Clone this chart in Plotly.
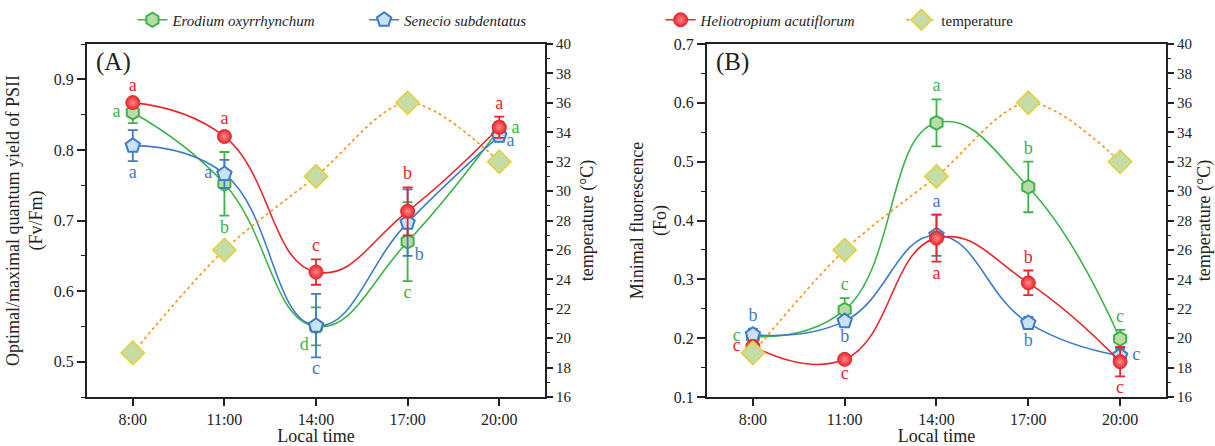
import plotly.graph_objects as go

# ---------------- data ----------------
hours = [8, 11, 14, 17, 20]
hour_labels = ["8:00", "11:00", "14:00", "17:00", "20:00"]
temperature = [19, 26, 31, 36, 32]

# Panel A: Fv/Fm
fvfm_erodium = [0.853, 0.752, 0.550, 0.670, 0.830]
fvfm_erodium_err = [0.015, 0.045, 0.027, 0.056, 0.010]
fvfm_senecio = [0.806, 0.766, 0.551, 0.697, 0.820]
fvfm_senecio_err = [0.022, 0.020, 0.045, 0.047, 0.008]
fvfm_helio = [0.867, 0.819, 0.627, 0.713, 0.832]
fvfm_helio_err = [0.005, 0.006, 0.018, 0.034, 0.015]
fvfm_erodium_letters = ["a", "b", "d", "c", "a"]
fvfm_senecio_letters = ["a", "a", "c", "b", "a"]
fvfm_helio_letters = ["a", "a", "c", "b", "a"]

# Panel B: Fo
fo_erodium = [0.203, 0.248, 0.566, 0.457, 0.199]
fo_erodium_err = [0.008, 0.020, 0.040, 0.043, 0.015]
fo_senecio = [0.206, 0.229, 0.375, 0.226, 0.170]
fo_senecio_err = [0.010, 0.006, 0.035, 0.010, 0.012]
fo_helio = [0.186, 0.164, 0.370, 0.294, 0.160]
fo_helio_err = [0.005, 0.005, 0.040, 0.021, 0.025]
fo_erodium_letters = ["c", "c", "a", "b", "c"]
fo_senecio_letters = ["b", "b", "a", "b", "c"]
fo_helio_letters = ["c", "c", "a", "b", "c"]

# label placement (style)
sideA_erodium = ["l", "b", "bl", "b", "r"]
sideA_senecio = ["b", "l", "b", "br", "br"]
sideA_helio = ["t", "t", "t", "t", "t"]
sideB_erodium = ["l", "t", "t", "t", "t"]
sideB_senecio = ["t", "b", "t", "b", "r"]
sideB_helio = ["l", "b", "b", "t", "b"]

# ---------------- style ----------------
FONT = "Liberation Serif"
GREEN = "#3cb44a"
GREEN_FILL = "#b9dba8"
BLUE = "#3f7bc8"
BLUE_FILL = "#c8e2f6"
RED = "#e8262b"
ORANGE = "#f7941d"
DIAMOND_FILL = "#c5dca6"
DIAMOND_EDGE = "#e6cf3a"
AXC = "#222222"
TXT = "#222222"

fig = go.Figure()

species = [
    ("<i>Erodium oxyrrhynchum</i>", GREEN, dict(symbol="hexagon", size=14, color=GREEN_FILL, line=dict(color=GREEN, width=2))),
    ("<i>Senecio subdentatus</i>", BLUE, dict(symbol="pentagon", size=15, color=BLUE_FILL, line=dict(color=BLUE, width=2))),
    ("<i>Heliotropium acutiflorum</i>", RED, dict(symbol="circle", size=14, color=RED, line=dict(color=RED, width=1),
                                                   gradient=dict(type="radial", color="#ff8c8c"))),
]

panels = [
    dict(x="x", y="y", y2="y2",
         vals=[fvfm_erodium, fvfm_senecio, fvfm_helio],
         errs=[fvfm_erodium_err, fvfm_senecio_err, fvfm_helio_err],
         letters=[fvfm_erodium_letters, fvfm_senecio_letters, fvfm_helio_letters],
         sides=[sideA_erodium, sideA_senecio, sideA_helio], legend=True),
    dict(x="x2", y="y3", y2="y4",
         vals=[fo_erodium, fo_senecio, fo_helio],
         errs=[fo_erodium_err, fo_senecio_err, fo_helio_err],
         letters=[fo_erodium_letters, fo_senecio_letters, fo_helio_letters],
         sides=[sideB_erodium, sideB_senecio, sideB_helio], legend=False),
]

legend_ids = ["legend", "legend2", "legend3", "legend4"]
pos_map = {"t": "top center", "b": "bottom center", "l": "middle left", "r": "middle right",
           "bl": "middle left", "br": "middle right"}
pad_map = {"t": 4, "b": 4, "l": 18, "r": 18, "bl": 10, "br": 10}

for p in panels:
    # temperature on secondary axis
    fig.add_trace(go.Scatter(
        x=hours, y=temperature, xaxis=p["x"], yaxis=p["y2"], name="temperature",
        mode="lines+markers", line=dict(color=ORANGE, width=1.6, dash="dot", shape="spline", smoothing=0.9),
        marker=dict(symbol="diamond", size=18, color=DIAMOND_FILL, line=dict(color=DIAMOND_EDGE, width=1.5)),
        showlegend=p["legend"], legend="legend4"))
    for i, (name, col, mk) in enumerate(species):
        v, e = p["vals"][i], p["errs"][i]
        fig.add_trace(go.Scatter(
            x=hours, y=v, xaxis=p["x"], yaxis=p["y"], name=name, mode="lines+markers",
            line=dict(color=col, width=1.6, shape="spline", smoothing=1.3),
            marker=mk,
            error_y=dict(type="data", array=e, color=col, thickness=1.8, width=5),
            showlegend=p["legend"], legend=legend_ids[i]))
    for i, (name, col, mk) in enumerate(species):
        v, e = p["vals"][i], p["errs"][i]
        sides = p["sides"][i]
        ys, tps, pads = [], [], []
        for val, er, s in zip(v, e, sides):
            if s == "t":
                ys.append(val + er)
            elif s in ("b", "bl", "br"):
                ys.append(val - er)
            else:
                ys.append(val)
            tps.append(pos_map[s])
            pads.append(pad_map[s])
        fig.add_trace(go.Scatter(
            x=hours, y=ys, xaxis=p["x"], yaxis=p["y"], mode="markers+text", text=p["letters"][i],
            marker=dict(size=pads, opacity=0, color=col),
            textposition=tps, textfont=dict(family=FONT, size=18, color=col),
            showlegend=False, hoverinfo="skip"))

xcommon = dict(range=[6.5, 21.5], tickvals=hours, ticktext=hour_labels, showline=True, linecolor=AXC,
               linewidth=2, mirror=True, ticks="outside", ticklen=7, tickwidth=1.5, tickcolor=AXC,
               showgrid=False, zeroline=False, tickfont=dict(family=FONT, size=16, color=TXT),
               title=dict(text="Local time", font=dict(family=FONT, size=18, color=TXT), standoff=4))
ycommon = dict(showline=True, linecolor=AXC, linewidth=2, ticks="outside", ticklen=8, tickwidth=1.5,
               tickcolor=AXC, showgrid=False, zeroline=False, tickfont=dict(family=FONT, size=16, color=TXT))
tcommon = dict(range=[16, 40], dtick=2, tick0=16, showline=True, linecolor=AXC, linewidth=2, ticks="outside",
               ticklen=6, tickwidth=1.5, tickcolor=AXC, showgrid=False, zeroline=False, side="right",
               minor=dict(dtick=1, ticks="outside", ticklen=3, tickcolor=AXC, tickwidth=1.2),
               tickfont=dict(family=FONT, size=15, color=TXT),
               title=dict(text="temperature (°C)", font=dict(family=FONT, size=18, color=TXT), standoff=10))

fig.update_layout(
    width=1215, height=446, paper_bgcolor="white", plot_bgcolor="white",
    margin=dict(l=87, r=49, t=44, b=49, autoexpand=False),
    font=dict(family=FONT, color=TXT),
    xaxis=dict(domain=[0, 0.4245], anchor="y", **xcommon),
    xaxis2=dict(domain=[0.5746, 1], anchor="y3", **xcommon),
    yaxis=dict(domain=[0, 1], anchor="x", range=[0.45, 0.95], dtick=0.1, tick0=0.5,
               minor=dict(dtick=0.05, ticks="outside", ticklen=4, tickcolor=AXC, tickwidth=1.2),
               title=dict(text="Optimal/maximal quantum yield of PSII<br>(Fv/Fm)",
                          font=dict(family=FONT, size=18, color=TXT), standoff=6),
               **ycommon),
    yaxis2=dict(anchor="x", overlaying="y", **tcommon),
    yaxis3=dict(domain=[0, 1], anchor="x2", range=[0.1, 0.7], dtick=0.1, tick0=0.1,
                minor=dict(dtick=0.05, ticks="outside", ticklen=4, tickcolor=AXC, tickwidth=1.2),
                title=dict(text="Minimal fluorescence<br>(Fo)",
                           font=dict(family=FONT, size=18, color=TXT), standoff=2),
                **ycommon),
    yaxis4=dict(anchor="x2", overlaying="y3", **tcommon),
    annotations=[
        dict(text="(A)", x=0.0, y=0.995, xref="paper", yref="paper", xanchor="left", yanchor="top",
             xshift=7, showarrow=False, font=dict(family=FONT, size=25, color=TXT)),
        dict(text="(B)", x=0.5746, y=0.995, xref="paper", yref="paper", xanchor="left", yanchor="top",
             xshift=7, showarrow=False, font=dict(family=FONT, size=25, color=TXT)),
    ],
)

leg_x = [0.0421, 0.2568, 0.5316, 0.7547]
for lid, lx in zip(legend_ids, leg_x):
    fig.update_layout({lid: dict(x=lx, y=1.068, xanchor="left", yanchor="middle", orientation="h",
                                 bgcolor="rgba(0,0,0,0)", font=dict(family=FONT, size=15, color=TXT))})

fig.write_html("out.html", config={"displayModeBar": False},
               post_script="document.body.style.margin='0';document.body.style.padding='0';")
